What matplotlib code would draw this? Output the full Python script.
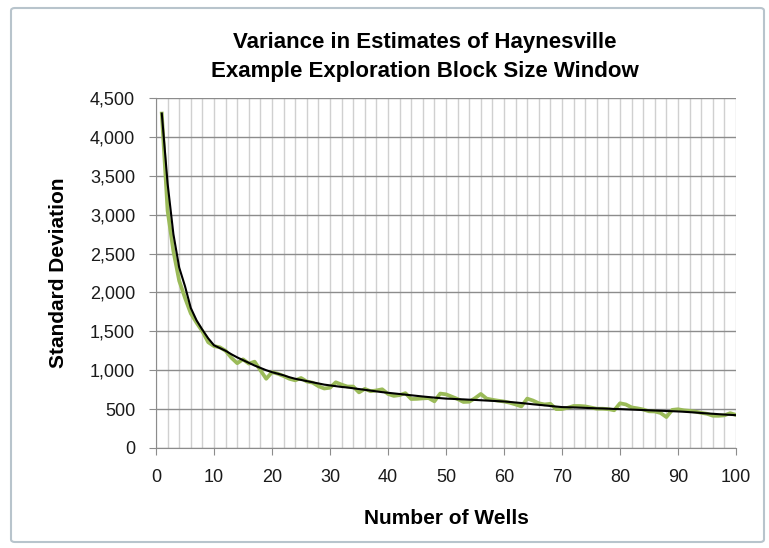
# %%
import numpy as np
import matplotlib
matplotlib.use("Agg")
import matplotlib.pyplot as plt
from matplotlib.patches import FancyBboxPatch
from matplotlib.ticker import FuncFormatter, MultipleLocator

# %% Data
wells = list(range(1, 101))

std_sim = [
    4300, 3050, 2530, 2150, 1930, 1730, 1610, 1500, 1360, 1310,
    1295, 1250, 1160, 1090, 1140, 1085, 1110, 1000, 890, 975,
    955, 925, 890, 870, 900, 855, 840, 795, 765, 775,
    845, 815, 790, 790, 715, 760, 730, 740, 755, 695,
    670, 680, 705, 630, 632, 638, 642, 600, 700, 690,
    660, 630, 592, 595, 640, 695, 635, 620, 608, 598,
    582, 560, 535, 635, 610, 575, 560, 568, 500, 500,
    518, 540, 540, 535, 520, 505, 505, 500, 485, 575,
    560, 522, 510, 495, 472, 470, 450, 398, 490, 498,
    485, 478, 468, 452, 440, 415, 414, 420, 448, 425,
]

std_expected = [
    4300, 3400, 2750, 2320, 2080, 1800, 1640, 1520, 1410, 1320,
    1285, 1250, 1205, 1165, 1130, 1095, 1060, 1030, 1000, 975,
    955, 935, 910, 890, 875, 860, 845, 830, 815, 805,
    795, 785, 778, 768, 758, 748, 738, 728, 718, 710,
    702, 694, 686, 678, 670, 662, 655, 648, 641, 635,
    632, 628, 625, 621, 618, 614, 610, 606, 602, 598,
    592, 585, 578, 570, 562, 555, 548, 540, 533, 526,
    524, 522, 519, 516, 513, 510, 508, 505, 502, 500,
    497, 494, 491, 488, 485, 482, 479, 476, 473, 470,
    466, 461, 456, 450, 445, 440, 435, 430, 426, 422,
]

title = "Variance in Estimates of Haynesville\nExample Exploration Block Size Window"

# %% Plot
plt.rcParams['font.family'] = ['Liberation Sans', 'DejaVu Sans']

fig = plt.figure(figsize=(7.69, 5.48), dpi=100)
ax = fig.add_axes([156/769, 1 - 448/548, (736-156)/769, (448-98)/548])

# chart frame
frame = FancyBboxPatch((11/769, 6/548), 753/769, 534/548,
                       boxstyle="round,pad=0,rounding_size=0.005",
                       transform=fig.transFigure, fill=False,
                       edgecolor='#b8c4cc', linewidth=1.5, zorder=-5)
fig.patches.append(frame)

ax.plot(wells, std_sim, color='#9bbb59', lw=2.7, solid_joinstyle='round', zorder=3)
ax.plot(wells, std_expected, color='black', lw=1.5, solid_joinstyle='round', zorder=4)

ax.set_xlim(0, 100)
ax.set_ylim(0, 4500)
ax.xaxis.set_major_locator(MultipleLocator(10))
ax.xaxis.set_minor_locator(MultipleLocator(2))
ax.yaxis.set_major_locator(MultipleLocator(500))
ax.yaxis.set_major_formatter(FuncFormatter(lambda v, p: f"{int(v):,}"))

ax.grid(which='both', axis='x', color='#d0d0d0', lw=1.0)
ax.grid(which='major', axis='y', color='#8c8c8c', lw=1.0)
ax.set_axisbelow(True)

for s in ['top', 'right']:
    ax.spines[s].set_visible(False)
for s in ['left', 'bottom']:
    ax.spines[s].set_color('#8c8c8c')
ax.tick_params(which='major', length=5, color='#8c8c8c', labelsize=13, pad=10,
               labelcolor='#1a1a1a')
ax.tick_params(which='minor', length=0)

ax.set_xlabel("Number of Wells", fontsize=15, fontweight='bold', labelpad=17)
ax.set_ylabel("Standard Deviation", fontsize=15, fontweight='bold', labelpad=16)
fig.text(425/769, 1 - 57/548, title, ha='center', va='center',
         fontsize=16, fontweight='bold', linespacing=1.5)

plt.savefig('out.png', dpi=100)
